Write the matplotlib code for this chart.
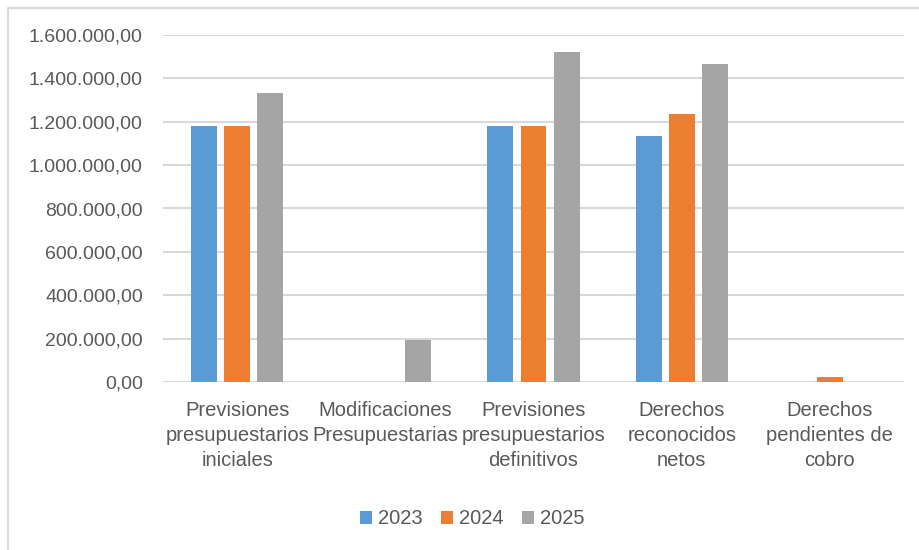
import numpy as np
import matplotlib.pyplot as plt
from matplotlib.lines import Line2D
from matplotlib.ticker import FuncFormatter

categorias = ["Previsiones\npresupuestarios\niniciales",
              "Modificaciones\nPresupuestarias",
              "Previsiones\npresupuestarios\ndefinitivos",
              "Derechos\nreconocidos\nnetos",
              "Derechos\npendientes de\ncobro"]
anios = ["2023", "2024", "2025"]
v2023 = [1179000, 0, 1179000, 1133000, 0]
v2024 = [1179000, 0, 1179000, 1236000, 25000]
v2025 = [1333000, 194000, 1523000, 1467000, 0]
colores = ["#5b9bd5", "#ed7d31", "#a5a5a5"]
yticks = [0, 200000, 400000, 600000, 800000, 1000000, 1200000, 1400000, 1600000]

plt.rcParams['font.family'] = ['Liberation Sans', 'DejaVu Sans']
gris = "#595959"

fig = plt.figure(figsize=(9.2, 5.5), dpi=100)
# borde del grafico (solo se ve arriba y a la izquierda)
fig.lines.append(Line2D([8 / 920, 8 / 920, 1], [0, 1 - 8 / 550, 1 - 8 / 550], transform=fig.transFigure,
                        color="#d9d9d9", linewidth=1.5))
ax = fig.add_axes([163 / 920, 1 - 382 / 550, 741 / 920, 347 / 550])

x = np.arange(len(categorias))
w = 0.175
paso = 0.223
for i, (serie, col) in enumerate(zip([v2023, v2024, v2025], colores)):
    ax.bar(x + (i - 1) * paso, serie, width=w, color=col, label=anios[i], zorder=3)

ax.set_xlim(-0.5, len(categorias) - 0.5)
ax.set_ylim(0, 1600000)
ax.set_yticks(yticks)


def fmt(v, pos):
    s = f"{v:,.2f}"
    return s.replace(",", "X").replace(".", ",").replace("X", ".")


ax.yaxis.set_major_formatter(FuncFormatter(fmt))
ax.grid(axis="y", color="#d9d9d9", linewidth=1.5, zorder=0)
for s in ax.spines.values():
    s.set_visible(False)
ax.tick_params(axis="both", length=0, colors=gris, labelsize=14)
ax.tick_params(axis="y", pad=14.5)
ax.tick_params(axis="x", pad=14)
ax.set_xticks(x)
ax.set_xticklabels(categorias, linespacing=1.4, fontsize=14.5, color=gris)

leg = fig.legend(loc="center", bbox_to_anchor=(472 / 920, 1 - 519 / 550), ncol=3, frameon=False,
                 fontsize=14.5, handlelength=0.6, handleheight=0.6, handletextpad=0.3, columnspacing=0.9)
for t in leg.get_texts():
    t.set_color(gris)

fig.savefig("out.png", dpi=100)
